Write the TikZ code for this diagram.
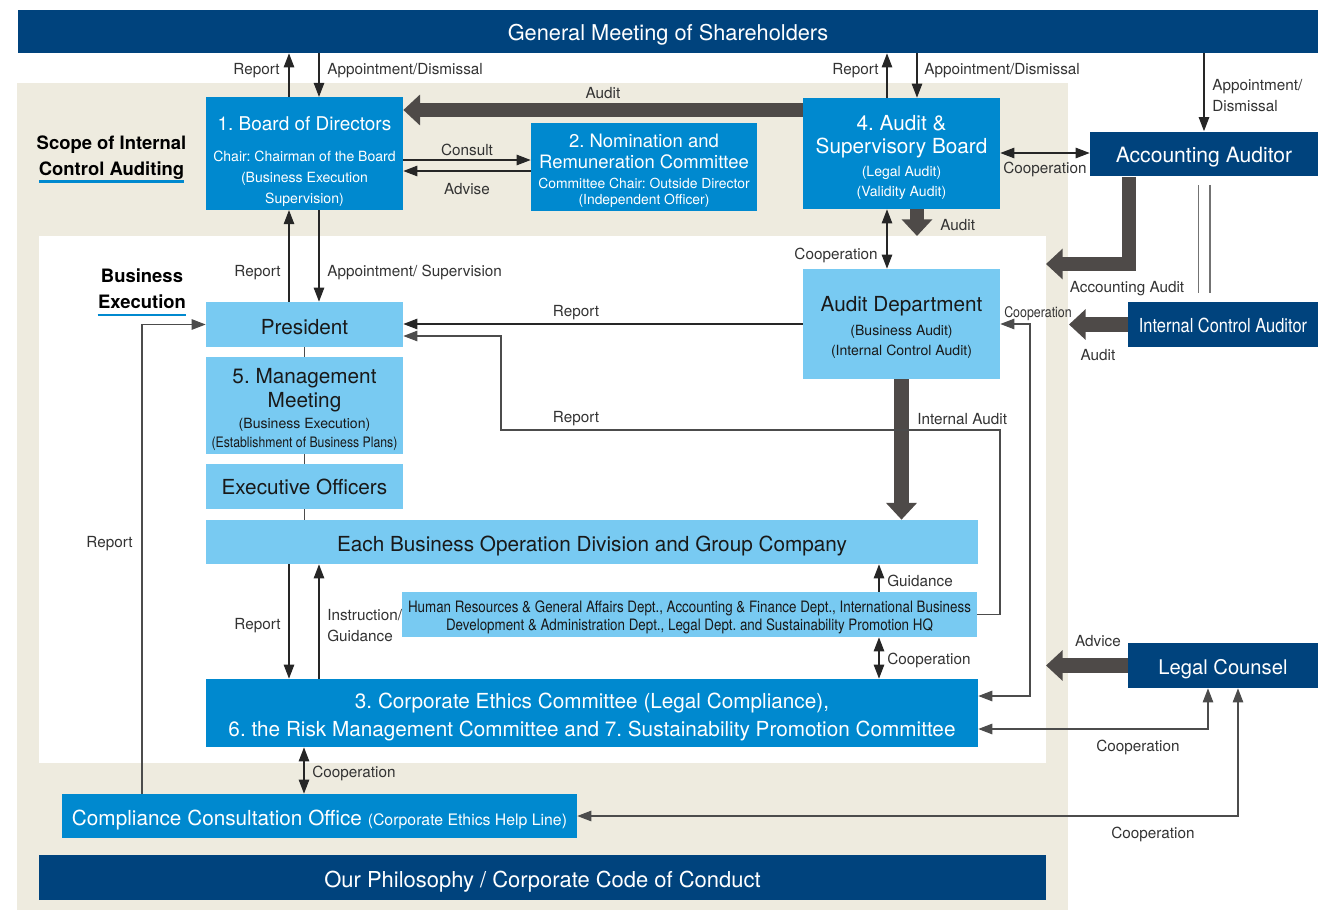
\documentclass[tikz,border=0pt]{standalone}
\usepackage{fontspec}
\setmainfont{TeX Gyre Heros}
\newfontfamily\condfont[FakeStretch=0.85]{TeX Gyre Heros}
\usepackage{xcolor}
\usepackage{tikz}
\usetikzlibrary{calc,arrows.meta}
\definecolor{navy}{RGB}{0,67,125}
\definecolor{corpblue}{RGB}{0,137,207}
\definecolor{skyblue}{RGB}{120,202,242}
\definecolor{sand}{RGB}{238,235,223}
\definecolor{fatgray}{RGB}{78,74,72}
\newcommand{\fsz}[2]{\fontsize{#1}{#2}\selectfont}
\newcommand{\lift}[1]{\rule{0pt}{#1}}
\frenchspacing

\begin{document}
\begin{tikzpicture}[x=0.02cm,y=-0.02cm,
      cell/.style={inner sep=2pt,align=center,minimum height=0.88cm},
      navybox/.style={cell,fill=navy,text=white},
      bluebox/.style={cell,fill=corpblue,text=white},
      skybox/.style={cell,fill=skyblue,text=black!90},
      lbl/.style={inner sep=0pt,yshift=-1.1pt,align=left,font=\fsz{8.7}{11.9},text=black!80},
      head/.style={inner sep=0pt,align=center,font=\bfseries\fsz{10.5}{15}},
      ar/.style={line width=0.6pt,draw=black!85,-{Triangle[length=8pt,width=6pt]}},
      biar/.style={ar,{Triangle[length=8pt,width=6pt]}-{Triangle[length=8pt,width=6pt]}},
      fat/.style={line width=8.5pt,draw=fatgray,-{Triangle[length=9.5pt,width=17pt]}},
      tie/.style={line width=0.6pt,draw=black!70},
      rail/.style={line width=0.6pt,draw=black!55,double=white,double distance=6.2pt}]
    \useasboundingbox (0,0) rectangle (1320,910);
    \fill[sand]  (17,83) rectangle (1068,910);
    \fill[white] (39,236) rectangle (1046,763);

    \node[navybox,minimum width=26cm,minimum height=0.86cm,font=\fsz{12.4}{15}] (gms) at (668,31.5) {\lift{12.4pt}General Meeting of Shareholders};
    \node[bluebox,minimum width=3.94cm,minimum height=2.22cm,font=\fsz{8}{11.9}] (bod) at (304.5,153.5)
      {{\fsz{10.8}{13}\lift{16.9pt}1. Board of Directors}\\[5.7pt]Chair: Chairman of the Board\\(Business Execution\\Supervision)};
    \node[bluebox,minimum width=4.52cm,minimum height=1.68cm,font=\fsz{7.9}{9}] (nom) at (644,167)
      {{\fsz{10.5}{12}\lift{12.2pt}2. Nomination and}\\[2.9pt]{\fsz{10.5}{12}Remuneration Committee}\\[2.3pt]Committee Chair: Outside Director\\(Independent Officer)};
    \node[bluebox,minimum width=3.94cm,minimum height=2.22cm,font=\fsz{8}{11.3}] (asb) at (901.5,153.5)
      {{\fsz{11.8}{13}\lift{13.1pt}4. Audit \&}\\[1.7pt]{\fsz{11.8}{13}Supervisory Board}\\[2pt](Legal Audit)\\(Validity Audit)};
    \node[navybox,minimum width=4.56cm,minimum height=0.9cm,font=\fsz{12}{14}] (acc) at (1204,154) {\lift{12.2pt}Accounting Auditor};
    \node[navybox,minimum width=3.8cm,minimum height=0.9cm,font=\condfont\fsz{11}{13}] (ica) at (1223,324.5) {\lift{9.4pt}Internal Control Auditor};
    \node[navybox,minimum width=3.8cm,minimum height=0.9cm,font=\fsz{11.5}{13}] (lc) at (1223,665.5) {\lift{12.9pt}Legal Counsel};
    \node[skybox,minimum width=3.94cm,minimum height=2.2cm,font=\fsz{8}{11.3}] (ad) at (901.5,324)
      {{\fsz{11.8}{13}\lift{12.6pt}Audit Department}\\[2pt](Business Audit)\\(Internal Control Audit)};
    \node[skybox,minimum width=3.94cm,minimum height=0.9cm,font=\fsz{11.8}{14}] (pres) at (304.5,324.5) {\lift{12pt}President};
    \node[skybox,minimum width=3.94cm,minimum height=1.9cm,font=\fsz{8}{10.8}] (mm) at (304.5,405.5)
      {{\fsz{11.8}{13}\lift{12.9pt}5. Management}\\[1.7pt]{\fsz{11.8}{13}Meeting}\\[0.8pt](Business Execution)\\{\condfont\fsz{8.2}{10}(Establishment of Business Plans)}};
    \node[skybox,minimum width=3.94cm,minimum height=0.9cm,font=\fsz{11.8}{14}] (exe) at (304.5,486.5) {\lift{9.8pt}Executive Officers};
    \node[skybox,minimum width=15.44cm,minimum height=0.88cm,font=\fsz{11.8}{14}] (ebd) at (592,542) {\lift{13.1pt}Each Business Operation Division and Group Company};
    \node[skybox,minimum width=11.5cm,minimum height=0.9cm,inner sep=1pt,font=\condfont\fsz{8.95}{10.8}] (hr) at (689.5,614.5)
      {\lift{9.9pt}Human Resources \& General Affairs Dept., Accounting \& Finance Dept., International Business\\Development \& Administration Dept., Legal Dept. and Sustainability Promotion HQ};
    \node[bluebox,minimum width=15.44cm,minimum height=1.36cm,font=\fsz{11.8}{15.9}] (eth) at (592,713)
      {\lift{13.1pt}3. Corporate Ethics Committee (Legal Compliance),\\6. the Risk Management Committee and 7. Sustainability Promotion Committee};
    \node[bluebox,minimum width=10.3cm,minimum height=0.88cm,font=\fsz{11.8}{14}] (cco) at (319.5,816)
      {\lift{13.1pt}Compliance Consultation Office {\fsz{9}{11}(Corporate Ethics Help Line)}};
    \node[navybox,minimum width=20.14cm,minimum height=0.9cm,font=\fsz{12.5}{15}] (phil) at (542.5,877.5) {\lift{13.6pt}Our Philosophy / Corporate Code of Conduct};

    \node[head] (scope) at (111.5,157.5) {Scope of Internal\\Control Auditing};
    \node[head] (bizex) at (142,288.5) {Business\\Execution};
    \draw[corpblue,line width=1.7pt] (39,181.5) -- (184,181.5);
    \draw[corpblue,line width=1.7pt] (97.5,315) -- (186,315);

    \coordinate (asbaud) at (917,236);
    \coordinate (accaud) at (1046,264);
    \coordinate (icaaud) at (1069,324.5);
    \coordinate (lcadv)  at (1046,665.5);

    \draw[fat] (asb.west |- 0,110) -- (bod.east |- 0,110);
    \draw[fat] (917,0 |- asb.south) -- (asbaud);
    \draw[fat] (1129,0 |- acc.south) |- (accaud);
    \draw[fat] (ica.west) -- (icaaud);
    \draw[fat] (lc.west) -- (lcadv);
    \draw[fat] (ad.south) -- (ad.south |- ebd.north);
    \draw[rail] ($(acc.south)+(0,8)$) -- ($(acc.south |- ica.north)+(0,-9)$);

    \draw[ar] (289,0 |- bod.north) -- (289,0 |- gms.south);
    \draw[ar] (319,0 |- gms.south) -- (319,0 |- bod.north);
    \draw[ar] (887,0 |- asb.north) -- (887,0 |- gms.south);
    \draw[ar] (917,0 |- gms.south) -- (917,0 |- asb.north);
    \draw[ar] (acc.north |- gms.south) -- (acc.north);
    \draw[ar] (bod.east |- 0,160) -- (nom.west |- 0,160);
    \draw[ar] (nom.west |- 0,171) -- (bod.east |- 0,171);
    \draw[biar] (asb.east |- 0,153) -- (acc.west |- 0,153);
    \draw[biar] (887,0 |- asb.south) -- (887,0 |- ad.north);
    \draw[ar] (289,0 |- pres.north) -- (289,0 |- bod.south);
    \draw[ar] (319,0 |- bod.south) -- (319,0 |- pres.north);
    \draw[ar] (ad.west) -- (pres.east |- ad.west);
    \draw[ar,draw=black!70] (hr.east) -- (1000,0 |- hr.east) |- (501,430) |- (pres.east |- 0,336);
    \draw[tie] (pres.south) -- (mm.north);
    \draw[tie] (mm.south) -- (exe.north);
    \draw[tie] (exe.south) -- (exe.south |- ebd.north);
    \draw[ar] (879,0 |- hr.north) -- (879,0 |- ebd.south);
    \draw[biar] (879,0 |- hr.south) -- (879,0 |- eth.north);
    \draw[ar] (289,0 |- ebd.south) -- (289,0 |- eth.north);
    \draw[ar] (319,0 |- eth.north) -- (319,0 |- ebd.south);
    \draw[ar,draw=black!70] (142,0 |- cco.north) |- (pres.west);
    \draw[biar] (304,0 |- eth.south) -- (304,0 |- cco.north);
    \draw[biar,draw=black!70] (ad.east) -- (1030,0 |- ad.east) |- (eth.east |- 0,696);
    \draw[biar,draw=black!70] (1208,0 |- lc.south) |- (eth.east |- 0,729);
    \draw[biar,draw=black!70] (1238,0 |- lc.south) |- (cco.east);

    \node[lbl,anchor=east] (t-rep1) at (280,69) {Report};
    \node[lbl,anchor=west] (t-app1) at (327,69) {Appointment/Dismissal};
    \node[lbl,anchor=east] (t-rep2) at (879,69) {Report};
    \node[lbl,anchor=west] (t-app2) at (924,69) {Appointment/Dismissal};
    \node[lbl,anchor=west] (t-app3) at (1212,93.5) {Appointment/\\Dismissal};
    \node[lbl] (t-aud1) at (603,91) {Audit};
    \node[lbl] (t-cons) at (467,148) {Consult};
    \node[lbl] (t-adv) at (467,187) {Advise};
    \node[lbl] (t-coop1) at (1045,168) {Cooperation};
    \node[lbl,anchor=west] (t-aud2) at (940,223) {Audit};
    \node[lbl,anchor=east] (t-coop2) at (878,254) {Cooperation};
    \node[lbl] (t-accaud) at (1127,287) {Accounting Audit};
    \node[lbl,font=\condfont\fsz{8.3}{10}] (t-coop3) at (1038,312) {Cooperation};
    \node[lbl] (t-aud3) at (1098,353) {Audit};
    \node[lbl] (t-rep3) at (576,311) {Report};
    \node[lbl] (t-rep4) at (576,417) {Report};
    \node[lbl,anchor=west] (t-intaud) at (917,417) {Internal Audit};
    \node[lbl,anchor=east] (t-rep5) at (281,271) {Report};
    \node[lbl,anchor=west] (t-app4) at (327,271) {Appointment/ Supervision};
    \node[lbl,anchor=west] (t-guid) at (887,579) {Guidance};
    \node[lbl,anchor=west] (t-coop4) at (887,659) {Cooperation};
    \node[lbl,anchor=east] (t-rep6) at (281,624) {Report};
    \node[lbl,anchor=west] (t-instr) at (327,623.5) {Instruction/\\Guidance};
    \node[lbl,anchor=east] (t-rep7) at (133,542) {Report};
    \node[lbl,anchor=west] (t-coop5) at (312,772) {Cooperation};
    \node[lbl] (t-advc) at (1098,639) {Advice};
    \node[lbl] (t-coop6) at (1138,746) {Cooperation};
    \node[lbl] (t-coop7) at (1153,833) {Cooperation};
  \end{tikzpicture}
\end{document}
